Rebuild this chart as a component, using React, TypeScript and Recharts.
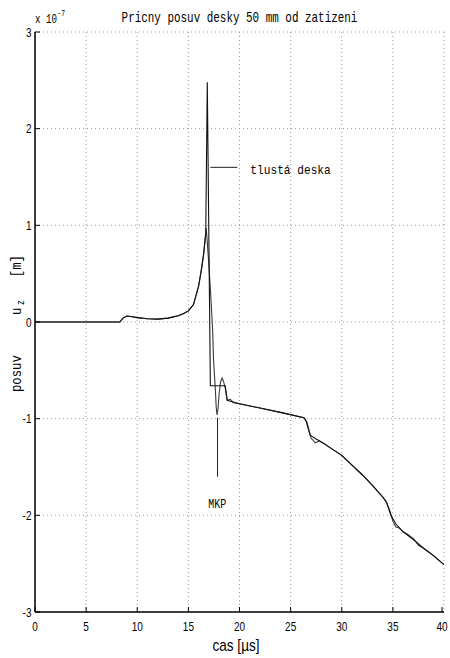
import React from 'react';
import { LineChart, Line, XAxis, YAxis, CartesianGrid, ReferenceLine, ReferenceDot } from 'recharts';

const xTicks = [0, 5, 10, 15, 20, 25, 30, 35, 40];
const yTicks = [-3, -2, -1, 0, 1, 2, 3];

// tlustá deska (thick plate solution), values in 1e-7 m
const deskaT = [0, 8.3, 8.6, 9.0, 9.5, 10, 11, 12, 13, 14, 14.5, 15, 15.5, 16, 16.3, 16.5, 16.7, 16.85, 17.15, 18.6, 18.8, 19.1, 20, 22, 24, 26.3, 26.5, 26.9, 27.5, 28, 29, 30, 31, 32, 33, 34, 34.4, 34.8, 35.3, 36, 37, 38, 39, 40];
const deskaU = [0, 0, 0.04, 0.062, 0.055, 0.045, 0.033, 0.03, 0.04, 0.065, 0.085, 0.115, 0.18, 0.37, 0.56, 0.71, 0.93, 2.48, -0.66, -0.66, -0.81, -0.82, -0.845, -0.89, -0.935, -0.99, -1.02, -1.17, -1.21, -1.24, -1.31, -1.38, -1.48, -1.58, -1.69, -1.81, -1.87, -2.0, -2.09, -2.17, -2.25, -2.34, -2.42, -2.51];

// MKP (finite element solution)
const mkpT = [0, 8.3, 8.6, 9.0, 9.5, 10, 11, 12, 13, 14, 14.5, 15, 15.5, 16, 16.3, 16.5, 16.65, 16.75, 17.0, 17.2, 17.37, 17.46, 17.65, 17.72, 17.8, 17.9, 18.0, 18.15, 18.3, 18.45, 18.6, 18.8, 19.1, 19.4, 20, 22, 24, 26.3, 26.6, 27.0, 27.4, 27.8, 28.3, 29, 30, 31, 32, 33, 34, 34.3, 34.7, 35.0, 35.3, 35.6, 36, 36.5, 37, 37.5, 38, 39, 40];
const mkpU = [0, 0, 0.04, 0.062, 0.055, 0.045, 0.033, 0.03, 0.04, 0.065, 0.085, 0.115, 0.18, 0.37, 0.56, 0.71, 0.86, 0.97, 0.6, 0.25, -0.08, -0.39, -0.72, -0.88, -0.96, -0.9, -0.75, -0.62, -0.58, -0.62, -0.68, -0.81, -0.8, -0.835, -0.845, -0.89, -0.935, -0.99, -1.04, -1.2, -1.25, -1.23, -1.26, -1.31, -1.38, -1.48, -1.58, -1.69, -1.81, -1.85, -1.95, -2.06, -2.12, -2.13, -2.17, -2.2, -2.24, -2.31, -2.34, -2.42, -2.51];

const deskaData = deskaT.map((t, i) => ({ t, u: deskaU[i] }));
const mkpData = mkpT.map((t, i) => ({ t, u: mkpU[i] }));

const MONO = "'Liberation Mono', 'DejaVu Sans Mono', monospace";
const SANS = "'Liberation Sans', Arial, sans-serif";

const ST = (p: any) => (
  <text
    transform={`translate(${p.x} ${p.y}) scale(${p.sx} 1)`}
    textAnchor={p.anchor || 'start'}
    fontFamily={p.font || MONO}
    fontSize={p.size}
    fill="#000"
  >
    {p.children}
  </text>
);

const BottomTick = (p: any) => (
  <g>
    <line x1={p.x} y1={p.y} x2={p.x} y2={p.y - 5} stroke="#000" strokeWidth={1} />
    <ST x={p.x} y={p.y + 18.5} sx={0.8} anchor="middle" font={SANS} size={12.5}>
      {p.payload.value}
    </ST>
  </g>
);
const TopTick = (p: any) => (
  <line x1={p.x} y1={p.y} x2={p.x} y2={p.y + 5} stroke="#000" strokeWidth={1} />
);
const LeftTick = (p: any) => (
  <g>
    <line x1={p.x} y1={p.y} x2={p.x + 5} y2={p.y} stroke="#000" strokeWidth={1} />
    <ST x={p.x - 3.5} y={p.y + 4.5} sx={0.8} anchor="end" font={SANS} size={12.5}>
      {p.payload.value}
    </ST>
  </g>
);
const RightTick = (p: any) => (
  <line x1={p.x} y1={p.y} x2={p.x - 5} y2={p.y} stroke="#000" strokeWidth={1} />
);

const TextShape = (text: string, anchor: string, size: number, sx: number) => (p: any) => (
  <ST x={p.cx} y={p.cy} sx={sx} anchor={anchor} size={size}>
    {text}
  </ST>
);

export default function App() {
  return (
    <div style={{ position: 'relative', width: 450, height: 658, overflow: 'hidden' }}>
      <style>{'html,body{margin:0;padding:0;overflow:hidden;}'}</style>
      <LineChart width={450} height={658} margin={{ top: 32, right: 6, left: 0, bottom: 0 }}>
        <CartesianGrid stroke="#999" strokeDasharray="1 3" />
        <XAxis
          xAxisId={0}
          dataKey="t"
          type="number"
          domain={[0, 40]}
          ticks={xTicks}
          allowDataOverflow
          height={46}
          tickSize={0}
          tickMargin={0}
          tick={<BottomTick />}
          tickLine={false}
          axisLine={{ stroke: '#000', strokeWidth: 1.5 }}
        />
        <XAxis
          xAxisId="top"
          orientation="top"
          dataKey="t"
          type="number"
          domain={[0, 40]}
          ticks={xTicks}
          height={0}
          tickSize={0}
          tickMargin={0}
          tick={<TopTick />}
          tickLine={false}
          axisLine={{ stroke: '#000', strokeWidth: 1.5 }}
        />
        <YAxis
          yAxisId={0}
          type="number"
          domain={[-3, 3]}
          ticks={yTicks}
          allowDataOverflow
          width={35}
          tickSize={0}
          tickMargin={0}
          tick={<LeftTick />}
          tickLine={false}
          axisLine={{ stroke: '#000', strokeWidth: 1.5 }}
        />
        <YAxis
          yAxisId="right"
          orientation="right"
          type="number"
          domain={[-3, 3]}
          ticks={yTicks}
          width={0}
          tickSize={0}
          tickMargin={0}
          tick={<RightTick />}
          tickLine={false}
          axisLine={{ stroke: '#000', strokeWidth: 1.5 }}
        />
        <Line
          data={mkpData}
          dataKey="u"
          type="linear"
          dot={false}
          stroke="#3a3a3a"
          strokeWidth={1.1}
          isAnimationActive={false}
        />
        <Line
          data={deskaData}
          dataKey="u"
          type="linear"
          dot={false}
          stroke="#111"
          strokeWidth={1.1}
          isAnimationActive={false}
        />
        <ReferenceLine
          segment={[{ x: 17.14, y: 1.6 }, { x: 19.78, y: 1.6 }]}
          stroke="#222"
          strokeWidth={1}
        />
        <ReferenceLine
          segment={[{ x: 17.85, y: -0.99 }, { x: 17.85, y: -1.6 }]}
          stroke="#222"
          strokeWidth={1}
        />
        <ReferenceDot x={21.06} y={1.53} r={0} shape={TextShape('tlustá deska', 'start', 13, 0.86)} />
        <ReferenceDot x={17.83} y={-1.92} r={0} shape={TextShape('MKP', 'middle', 13.5, 0.74)} />
      </LineChart>
      <svg
        width={450}
        height={658}
        style={{ position: 'absolute', left: 0, top: 0, pointerEvents: 'none' }}
      >
        <ST x={239.5} y={21.5} sx={0.78} anchor="middle" size={14}>
          Pricny posuv desky 50 mm od zatizeni
        </ST>
        <ST x={35} y={23} sx={0.73} size={12.5}>
          x 10
        </ST>
        <ST x={57.5} y={15.5} sx={0.75} size={8.5}>
          -7
        </ST>
        <text
          transform="translate(20.5 392) rotate(-90) scale(0.82 1)"
          fontFamily={MONO}
          fontSize={15}
          fill="#000"
        >
          <tspan x={0}>posuv</tspan>
          <tspan x={94}>u</tspan>
          <tspan x={106} dy={3} fontSize={10}>z</tspan>
          <tspan x={140} dy={-3}>[m]</tspan>
        </text>
        <ST x={236} y={651} sx={0.85} anchor="middle" font={SANS} size={16}>
          cas [µs]
        </ST>
      </svg>
    </div>
  );
}
